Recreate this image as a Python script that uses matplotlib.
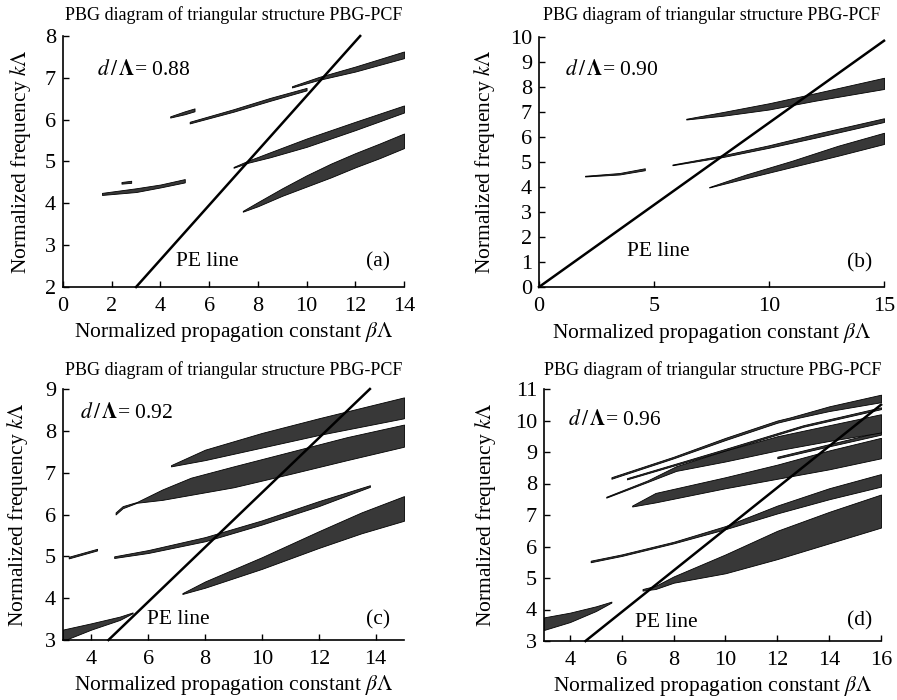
import matplotlib
matplotlib.use("Agg")
import matplotlib.pyplot as plt

plt.rcParams['font.family'] = ['Liberation Serif', 'DejaVu Serif']
plt.rcParams['mathtext.fontset'] = 'stix'

TITLE = "PBG diagram of triangular structure PBG-PCF"
XLABEL = r"Normalized propagation constant $\beta\mathit{\Lambda}$"
YLABEL = r"Normalized frequency $k\mathit{\Lambda}$"

# ---------------- panel (a) d/L = 0.88 ----------------
A_PE_X = [3.0, 12.2]
A_PE_Y = [2.0, 8.0]
A1_X = [7.38, 8.0, 9.0, 10.0, 11.0, 12.0, 13.0, 14.0]
A1_UP = [3.82, 4.03, 4.36, 4.67, 4.95, 5.20, 5.43, 5.67]
A1_LO = [3.80, 3.93, 4.18, 4.40, 4.62, 4.86, 5.08, 5.32]
A2_X = [7.0, 7.6, 8.5, 10.0, 12.0, 14.0]
A2_UP = [4.87, 5.02, 5.22, 5.55, 5.95, 6.34]
A2_LO = [4.85, 4.97, 5.10, 5.35, 5.75, 6.17]
A3_X = [5.2, 7.0, 8.5, 10.0]
A3_UP = [5.95, 6.25, 6.52, 6.76]
A3_LO = [5.91, 6.19, 6.45, 6.70]
A4_X = [9.4, 10.5, 12.0, 14.0]
A4_UP = [6.80, 7.02, 7.27, 7.63]
A4_LO = [6.77, 6.95, 7.15, 7.47]
A5_X = [4.4, 5.0, 5.4]
A5_UP = [6.08, 6.20, 6.27]
A5_LO = [6.05, 6.13, 6.20]
A6_X = [1.6, 3.0, 4.0, 5.0]
A6_UP = [4.25, 4.36, 4.45, 4.58]
A6_LO = [4.20, 4.27, 4.38, 4.50]
A7_X = [2.4, 2.8]
A7_UP = [4.51, 4.54]
A7_LO = [4.47, 4.49]

# ---------------- panel (b) d/L = 0.90 ----------------
B_PE_X = [0.0, 15.0]
B_PE_Y = [0.0, 9.85]
B1_X = [7.4, 9.0, 11.0, 13.0, 15.0]
B1_UP = [4.00, 4.50, 5.05, 5.65, 6.17]
B1_LO = [3.98, 4.35, 4.80, 5.25, 5.72]
B2_X = [5.8, 8.0, 10.0, 12.0, 15.0]
B2_UP = [4.90, 5.27, 5.67, 6.12, 6.75]
B2_LO = [4.87, 5.20, 5.57, 5.97, 6.60]
B3_X = [2.0, 3.5, 4.6]
B3_UP = [4.45, 4.56, 4.75]
B3_LO = [4.42, 4.50, 4.67]
B4_X = [6.4, 8.0, 10.0, 12.0, 15.0]
B4_UP = [6.73, 7.00, 7.35, 7.75, 8.37]
B4_LO = [6.70, 6.85, 7.10, 7.45, 7.92]

# ---------------- panel (c) d/L = 0.92 ----------------
C_PE_X = [4.6, 13.8]
C_PE_Y = [3.0, 9.0]
C1_X = [7.2, 8.0, 10.0, 12.0, 13.5, 15.0]
C1_UP = [4.12, 4.40, 4.98, 5.60, 6.05, 6.44]
C1_LO = [4.10, 4.25, 4.70, 5.20, 5.55, 5.85]
C2_X = [4.8, 6.0, 8.0, 10.0, 12.0, 13.8]
C2_UP = [5.00, 5.15, 5.46, 5.86, 6.32, 6.70]
C2_LO = [4.96, 5.08, 5.36, 5.76, 6.20, 6.66]
C3_X = [3.2, 4.2]
C3_UP = [4.99, 5.18]
C3_LO = [4.95, 5.14]
C4_X = [4.85, 5.1, 5.6, 6.5, 7.5, 9.0, 11.0, 13.0, 15.0]
C4_UP = [6.05, 6.20, 6.30, 6.60, 6.88, 7.15, 7.50, 7.85, 8.15]
C4_LO = [6.00, 6.15, 6.28, 6.35, 6.47, 6.65, 6.97, 7.30, 7.62]
C5_X = [6.8, 8.0, 10.0, 12.0, 15.0]
C5_UP = [7.18, 7.55, 7.95, 8.30, 8.80]
C5_LO = [7.15, 7.30, 7.60, 7.90, 8.30]
C6_X = [3.0, 4.0, 5.0, 5.45]
C6_UP = [3.25, 3.40, 3.56, 3.66]
C6_LO = [2.98, 3.25, 3.48, 3.64]

# ---------------- panel (d) d/L = 0.96 ----------------
D_PE_X = [4.6, 16.0]
D_PE_Y = [3.0, 10.5]
D1_X = [6.8, 7.3, 8.0, 10.0, 12.0, 14.0, 16.0]
D1_UP = [4.65, 4.75, 5.05, 5.75, 6.50, 7.10, 7.65]
D1_LO = [4.60, 4.65, 4.85, 5.15, 5.60, 6.10, 6.60]
D2_X = [4.8, 6.0, 8.0, 10.0, 12.0, 14.0, 16.0]
D2_UP = [5.55, 5.75, 6.15, 6.65, 7.30, 7.85, 8.30]
D2_LO = [5.50, 5.70, 6.10, 6.55, 7.05, 7.50, 7.90]
D3_X = [6.4, 7.3, 10.0, 12.0, 14.0, 16.0]
D3_UP = [7.30, 7.70, 8.20, 8.60, 9.05, 9.45]
D3_LO = [7.27, 7.40, 7.85, 8.15, 8.45, 8.80]
D4_X = [12.0, 14.0, 16.0]
D4_UP = [8.85, 9.25, 9.65]
D4_LO = [8.80, 9.18, 9.55]
D5_X = [5.4, 7.0, 8.1, 10.0, 12.0, 14.0, 16.0]
D5_UP = [7.58, 8.10, 8.55, 9.05, 9.50, 9.85, 10.20]
D5_LO = [7.55, 8.05, 8.40, 8.70, 9.05, 9.35, 9.62]
D6_X = [6.2, 10.0, 13.0, 16.0]
D6_UP = [8.17, 9.10, 9.85, 10.42]
D6_LO = [8.13, 9.05, 9.80, 10.36]
D7_X = [5.6, 8.0, 10.0, 12.0, 12.5, 14.0, 16.0]
D7_UP = [8.20, 8.85, 9.45, 10.00, 10.10, 10.45, 10.82]
D7_LO = [8.15, 8.80, 9.38, 9.93, 10.03, 10.30, 10.58]
D8_X = [3.0, 4.0, 5.0, 5.6]
D8_UP = [3.75, 3.90, 4.10, 4.25]
D8_LO = [3.35, 3.60, 3.95, 4.22]

FILL = '#383838'

fig = plt.figure(figsize=(8.97, 7.0), dpi=100)
W, H = 897.0, 700.0


def make_ax(l, r, t, b):
    return fig.add_axes([l / W, 1 - b / H, (r - l) / W, (b - t) / H])


def style(ax, xlim, ylim, xticks, yticks, label, dtext, tpos, petpos, lpos,
          title_dy, xl_dy, yl_dx):
    ax.set_xlim(*xlim)
    ax.set_ylim(*ylim)
    ax.set_xticks(xticks)
    ax.set_yticks(yticks)
    for s in ['top', 'right']:
        ax.spines[s].set_visible(False)
    for s in ['left', 'bottom']:
        ax.spines[s].set_linewidth(1.2)
    ax.tick_params(direction='in', length=4, width=1.0, labelsize=16)
    ax.tick_params(axis='x', pad=7)
    ax.tick_params(axis='y', pad=5)
    ax.text(0.5, 1 + title_dy, TITLE, transform=ax.transAxes, ha='center',
            va='center', fontsize=13)
    ax.text(0.5, -xl_dy, XLABEL, transform=ax.transAxes, ha='center',
            va='center', fontsize=15.5)
    ax.text(-yl_dx, 0.5, YLABEL, transform=ax.transAxes, ha='center',
            va='center', rotation=90, fontsize=15.5)
    ax.text(tpos[0], tpos[1], r"$d\,/\,\mathbf{\Lambda}$= " + dtext,
            transform=ax.transAxes, ha='left', va='center', fontsize=15.5)
    ax.text(petpos[0], petpos[1], "PE line", transform=ax.transAxes,
            ha='left', va='center', fontsize=15.5)
    ax.text(lpos[0], lpos[1], label, transform=ax.transAxes, ha='right',
            va='center', fontsize=15.5)


def bands(ax, items):
    for x, up, lo in items:
        ax.fill_between(x, lo, up, facecolor=FILL, edgecolor='black',
                        linewidth=0.6, zorder=2)


# (a)
ax = make_ax(63, 404, 36, 287)
bands(ax, [(A1_X, A1_UP, A1_LO), (A2_X, A2_UP, A2_LO), (A3_X, A3_UP, A3_LO),
           (A4_X, A4_UP, A4_LO), (A5_X, A5_UP, A5_LO), (A6_X, A6_UP, A6_LO),
           (A7_X, A7_UP, A7_LO)])
ax.plot(A_PE_X, A_PE_Y, color='black', lw=1.8, zorder=3, clip_on=False)
style(ax, (0, 14), (2, 8), range(0, 15, 2), range(2, 9), "(a)", "0.88",
      (0.10, 0.865), (0.33, 0.10), (0.96, 0.10), 0.085, 0.18, 0.126)

# (b)
ax = make_ax(539, 884, 37, 287)
bands(ax, [(B1_X, B1_UP, B1_LO), (B2_X, B2_UP, B2_LO), (B3_X, B3_UP, B3_LO),
           (B4_X, B4_UP, B4_LO)])
ax.plot(B_PE_X, B_PE_Y, color='black', lw=1.8, zorder=3, clip_on=False)
style(ax, (0, 15), (0, 10), [0, 5, 10, 15], range(0, 11), "(b)", "0.90",
      (0.075, 0.868), (0.255, 0.14), (0.965, 0.096), 0.088, 0.185, 0.157)

# (c)
ax = make_ax(63, 404, 389, 640)
bands(ax, [(C1_X, C1_UP, C1_LO), (C2_X, C2_UP, C2_LO), (C3_X, C3_UP, C3_LO),
           (C4_X, C4_UP, C4_LO), (C5_X, C5_UP, C5_LO), (C6_X, C6_UP, C6_LO)])
ax.plot(C_PE_X, C_PE_Y, color='black', lw=1.8, zorder=3, clip_on=False)
style(ax, (3, 15), (3, 9), range(4, 15, 2), range(3, 10), "(c)", "0.92",
      (0.05, 0.904), (0.246, 0.08), (0.96, 0.08), 0.076, 0.18, 0.132)

# (d)
ax = make_ax(544, 881, 389, 641)
bands(ax, [(D1_X, D1_UP, D1_LO), (D2_X, D2_UP, D2_LO), (D3_X, D3_UP, D3_LO),
           (D4_X, D4_UP, D4_LO), (D5_X, D5_UP, D5_LO), (D6_X, D6_UP, D6_LO),
           (D7_X, D7_UP, D7_LO), (D8_X, D8_UP, D8_LO)])
ax.plot(D_PE_X, D_PE_Y, color='black', lw=1.8, zorder=3, clip_on=False)
style(ax, (3, 16), (3, 11), range(4, 17, 2), range(3, 12), "(d)", "0.96",
      (0.071, 0.877), (0.27, 0.075), (0.973, 0.08), 0.075, 0.18, 0.175)

fig.savefig("out.png", dpi=100)
